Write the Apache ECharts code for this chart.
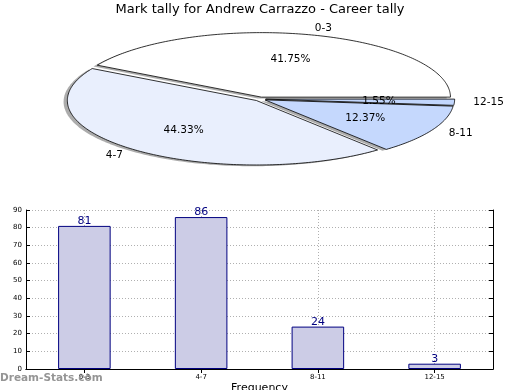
<!DOCTYPE html>
<html><head><meta charset="utf-8">
<script src="https://cdn.jsdelivr.net/npm/echarts@6/dist/echarts.min.js"></script>
<style>html,body{margin:0;padding:0;background:#fff}#c{width:520px;height:390px}</style>
</head><body><div id="c"></div>
<script>
const chartTitle = 'Mark tally for Andrew Carrazzo - Career tally';
const categories = ['0-3', '4-7', '8-11', '12-15'];
const counts = [81, 86, 24, 3];
const yMin = 0, yMax = 90, yStep = 10;
const sliceColors = ['#ffffff', '#e9effd', '#c5d8fd', '#c2d6fc'];

const FONT = '"DejaVu Sans", sans-serif';
const total = counts.reduce((a, b) => a + b, 0);
const cum = []; let acc = 0;
counts.forEach(v => { cum.push(acc); acc += v; });
const EXPLODE = 0.03, SH = -0.02;

function angles(i) {
  const a0 = 2 * Math.PI * cum[i] / total;
  const a1 = 2 * Math.PI * (cum[i] + counts[i]) / total;
  return [a0, a1, (a0 + a1) / 2];
}
function wedgePoints(api, i, dx, dy) {
  const [a0, a1, mid] = angles(i);
  const ox = EXPLODE * Math.cos(mid) + dx, oy = EXPLODE * Math.sin(mid) + dy;
  const pts = [api.coord([ox, oy])];
  const n = Math.max(2, Math.ceil((a1 - a0) / (Math.PI / 180)));
  for (let k = 0; k <= n; k++) {
    const a = a0 + (a1 - a0) * k / n;
    pts.push(api.coord([ox + Math.cos(a), oy + Math.sin(a)]));
  }
  return pts;
}

const gridLine = { show: true, lineStyle: { color: '#b0b0b0', type: [1, 2], width: 1 } };

const option = {
  animation: false,
  textStyle: { fontFamily: FONT },
  title: { text: chartTitle, left: 'center', top: -2,
    textStyle: { fontSize: 13, fontWeight: 'normal', fontFamily: FONT, color: '#000' } },
  graphic: [{ type: 'text', left: 0, top: 373, z: 100,
    style: { text: 'Dream-Stats.com', fill: '#959595', font: 'bold 10.5px ' + FONT } }],
  grid: [
    { left: 26, right: 27, top: 210, bottom: 21, containLabel: false, outerBoundsMode: 'none' },
    { left: 71, width: 378, top: 34.5, height: 129, containLabel: false, outerBoundsMode: 'none' }
  ],
  xAxis: [
    { type: 'category', gridIndex: 0, position: 'bottom', data: categories,
      axisLine: { lineStyle: { color: '#000', width: 1 } },
      axisTick: { show: true, inside: true, length: 4, alignWithLabel: true, lineStyle: { color: '#000' } },
      axisLabel: { fontSize: 7, color: '#000', margin: 5 },
      splitLine: Object.assign({ alignWithLabel: true }, gridLine),
      name: 'Frequency', nameLocation: 'middle', nameGap: 14,
      nameTextStyle: { fontSize: 11, color: '#000' } },
    { type: 'category', gridIndex: 0, position: 'top', data: categories,
      axisLine: { show: true, lineStyle: { color: '#000', width: 1 } },
      axisTick: { show: true, inside: true, length: 4, alignWithLabel: true, lineStyle: { color: '#000' } },
      axisLabel: { show: false }, splitLine: { show: false } },
    { type: 'value', gridIndex: 1, min: -1, max: 1, show: false, splitLine: { show: false } }
  ],
  yAxis: [
    { type: 'value', gridIndex: 0, min: yMin, max: yMax, interval: yStep,
      axisLine: { show: true, lineStyle: { color: '#000', width: 1 } },
      axisTick: { show: true, inside: true, length: 4, lineStyle: { color: '#000' } },
      axisLabel: { fontSize: 7, color: '#000', margin: 4 },
      splitLine: gridLine,
      name: 'Stat Intervals', nameLocation: 'middle', nameGap: 15,
      nameTextStyle: { fontSize: 11, color: '#000' } },
    { type: 'value', gridIndex: 0, position: 'right', min: yMin, max: yMax, interval: yStep,
      axisLine: { show: true, lineStyle: { color: '#000', width: 1 } },
      axisTick: { show: true, inside: true, length: 4, lineStyle: { color: '#000' } },
      axisLabel: { show: false }, splitLine: { show: false } },
    { type: 'value', gridIndex: 1, min: -1, max: 1, show: false, splitLine: { show: false } }
  ],
  series: [
    { type: 'bar', xAxisIndex: 0, yAxisIndex: 0, data: counts, barWidth: '45%',
      itemStyle: { color: '#ccccE6', borderColor: '#000080', borderWidth: 1 },
      label: { show: true, position: 'top', distance: -1, color: '#000080', fontSize: 11, fontFamily: FONT } },
    { type: 'custom', coordinateSystem: 'cartesian2d', xAxisIndex: 2, yAxisIndex: 2, z: 1,
      data: counts, silent: true,
      renderItem: (params, api) => ({
        type: 'polygon', shape: { points: wedgePoints(api, params.dataIndex, SH, SH) },
        style: { fill: 'rgba(90,90,90,0.5)', stroke: null }
      }) },
    { type: 'custom', coordinateSystem: 'cartesian2d', xAxisIndex: 2, yAxisIndex: 2, z: 2,
      data: counts,
      renderItem: (params, api) => {
        const i = params.dataIndex;
        const [a0, a1, mid] = angles(i);
        const ox = EXPLODE * Math.cos(mid), oy = EXPLODE * Math.sin(mid);
        const lp = api.coord([ox + 1.1 * Math.cos(mid), oy + 1.1 * Math.sin(mid)]);
        const pp = api.coord([ox + 0.6 * Math.cos(mid), oy + 0.6 * Math.sin(mid)]);
        const pct = (counts[i] / total * 100).toFixed(2) + '%';
        return { type: 'group', children: [
          { type: 'polygon', shape: { points: wedgePoints(api, i, 0, 0) },
            style: { fill: sliceColors[i], stroke: '#000', lineWidth: 0.8 } },
          { type: 'text', x: lp[0], y: lp[1], z2: 100,
            style: { text: categories[i], fill: '#000', font: '10.5px ' + FONT,
              align: Math.cos(mid) > 0 ? 'left' : 'right', verticalAlign: 'middle' } },
          { type: 'text', x: pp[0], y: pp[1], z2: 100,
            style: { text: pct, fill: '#000', font: '10.5px ' + FONT,
              align: 'center', verticalAlign: 'middle' } }
        ] };
      } }
  ]
};
echarts.init(document.getElementById('c')).setOption(option);
</script></body></html>
